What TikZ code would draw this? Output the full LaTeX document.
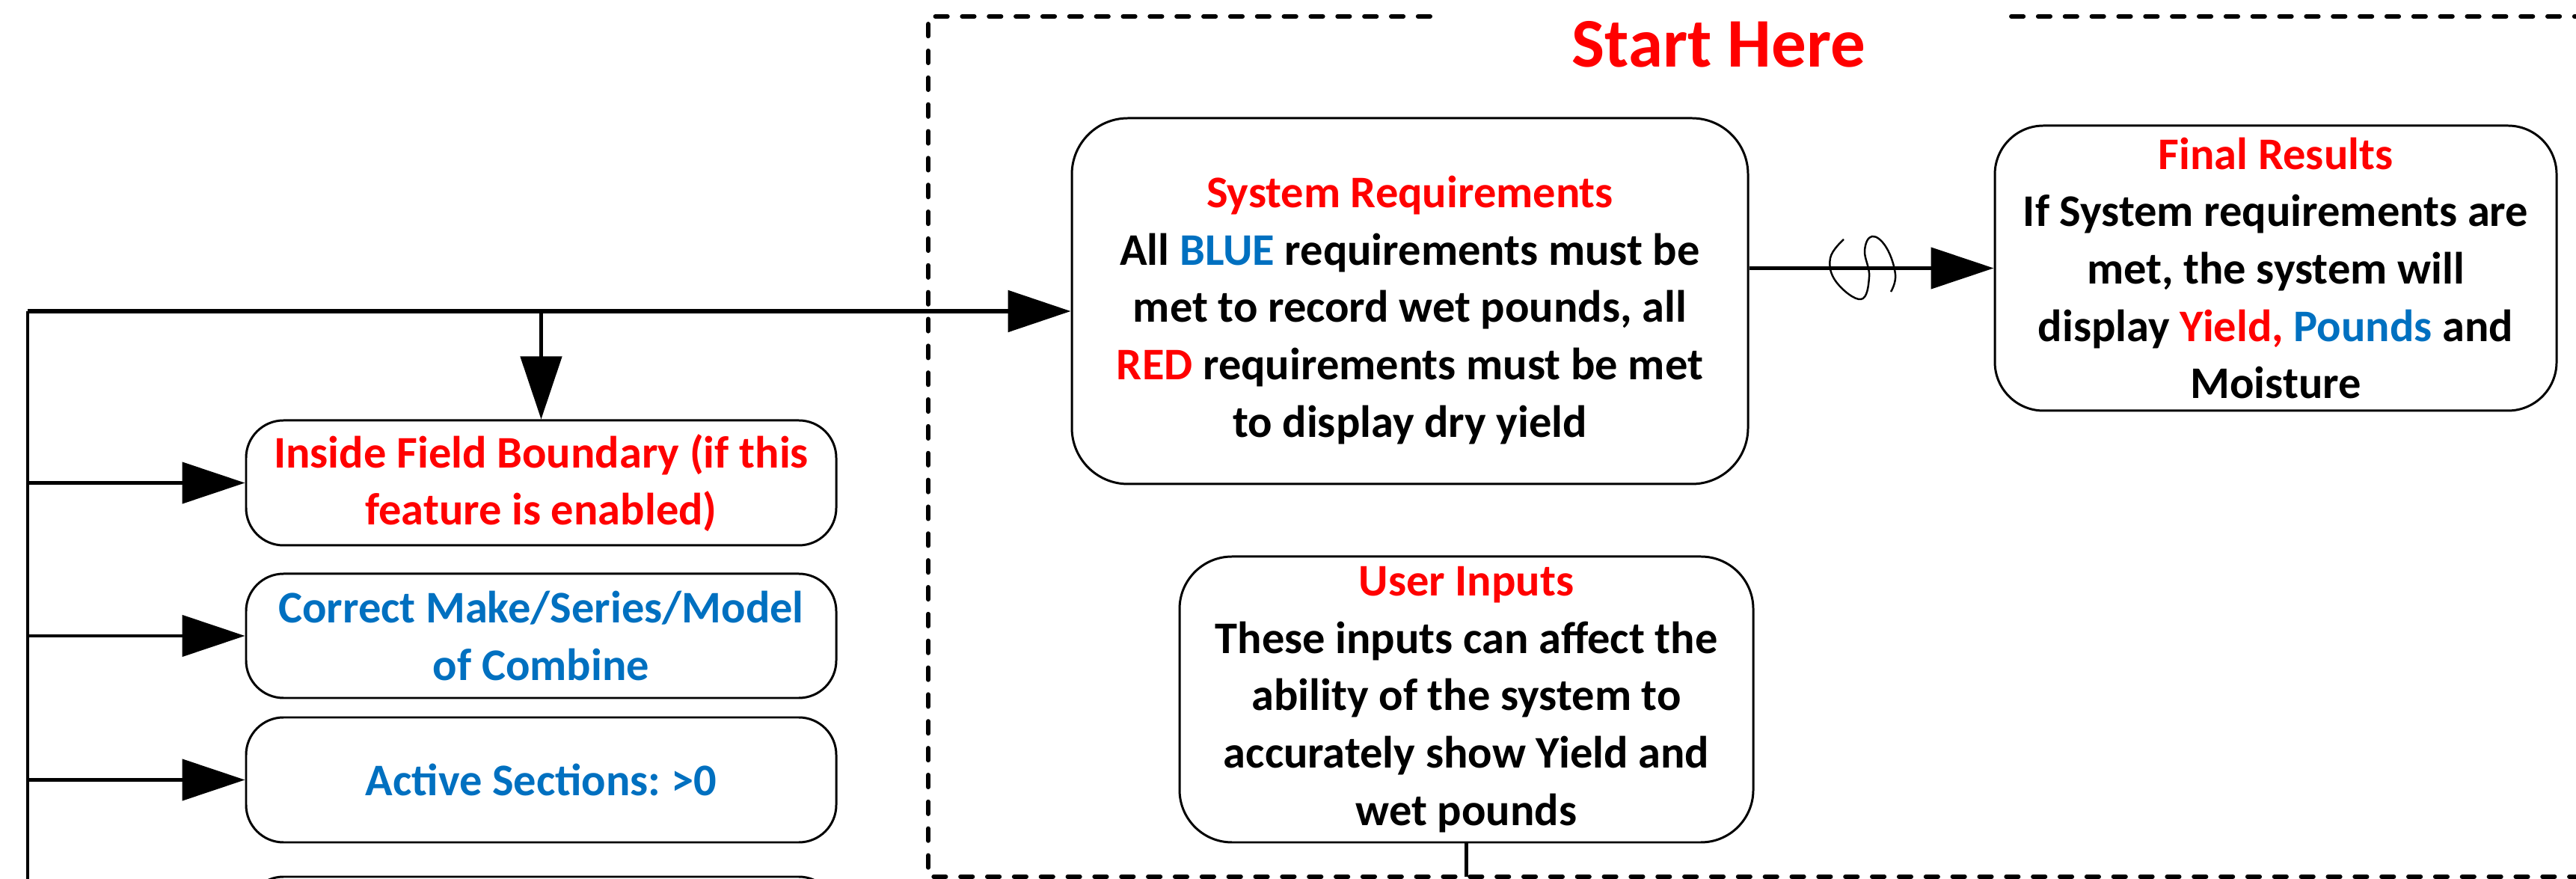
\documentclass[tikz,border=0pt]{standalone}
\usepackage{fontspec}
\setmainfont{Carlito}
\usetikzlibrary{arrows.meta}
\definecolor{myred}{RGB}{255,0,0}
\definecolor{myblue}{RGB}{0,112,192}
\begin{document}
\begin{tikzpicture}[
  box/.style={draw=black, line width=0.85pt, rounded corners=0.5cm, align=center, inner sep=0pt,
    font=\bfseries\fontsize{17.2}{21.8}\selectfont},
  bigbox/.style={box, rounded corners=0.75cm},
  boxtext/.style={align=center, inner sep=0pt, font=\bfseries\fontsize{17.2}{21.8}\selectfont},
  conn/.style={line width=1.3pt, -{Triangle[length=0.84cm,width=0.55cm]}},
  plainline/.style={line width=1.3pt},
  dashbox/.style={line width=1.7pt, line cap=round, dash pattern=on 4.6pt off 5.6pt},
]
\useasboundingbox (0,0) rectangle (34.44,11.75);
\clip (0,0) rectangle (34.44,11.75);

% title
\node[anchor=base, text=myred, font=\bfseries\fontsize{26.5}{32}\selectfont] (title) at (22.98,10.85) {Start Here};

% dashed region
\draw[dashbox] (19.12,11.53) -- (12.41,11.53) -- (12.41,0.03) -- (35.0,0.03);
\draw[dashbox] (26.89,11.53) -- (35.0,11.53);

% main boxes
\node[bigbox, minimum width=9.04cm, minimum height=4.89cm] (sr) at (18.85,7.725) {};
\node[boxtext, yshift=-0.12cm] (srtext) at (sr.center)
  {\textcolor{myred}{System Requirements}\\
   All \textcolor{myblue}{BLUE} requirements must be\\
   met to record wet pounds, all\\
   \textcolor{myred}{RED} requirements must be met\\
   to display dry yield};
\node[bigbox, rounded corners=0.65cm, minimum width=7.51cm, minimum height=3.81cm] (fr) at (30.425,8.165)
  {\textcolor{myred}{Final Results}\\
   If System requirements are\\
   met, the system will\\
   display \textcolor{myred}{Yield,} \textcolor{myblue}{Pounds} and\\
   Moisture};
\node[bigbox, rounded corners=0.7cm, minimum width=7.67cm, minimum height=3.82cm] (ui) at (19.605,2.40)
  {\textcolor{myred}{User Inputs}\\
   These inputs can affect the\\
   ability of the system to\\
   accurately show Yield and\\
   wet pounds};

% requirement boxes
\node[box, minimum width=7.89cm, minimum height=1.67cm, text=myred] (ifb) at (7.235,5.295)
  {Inside Field Boundary (if this\\ feature is enabled)};
\node[box, minimum width=7.89cm, minimum height=1.66cm, text=myblue] (cm) at (7.235,3.25)
  {Correct Make/Series/Model\\ of Combine};
\node[box, minimum width=7.89cm, minimum height=1.67cm, text=myblue] (as) at (7.235,1.325)
  {Active Sections:\ >0};
\node[box, minimum width=7.89cm, minimum height=1.67cm] (nextbox) at (7.235,-0.805) {};

% connectors
\coordinate (c0) at (0.37,7.59);
\coordinate (cbot) at (0.37,-0.5);
\coordinate (dbot) at (19.605,0.03);
\draw[plainline] (c0) -- (cbot);
\draw[conn, line width=1.6pt] (c0) -- (c0 -| sr.west);
\draw[conn] (c0 -| ifb.north) -- (ifb.north);
\draw[conn] (c0 |- ifb.west) -- (ifb.west);
\draw[conn] (c0 |- cm.west) -- (cm.west);
\draw[conn] (c0 |- as.west) -- (as.west);
\draw[conn] (fr.west -| sr.east) -- (fr.west);
\draw[plainline] (ui.south) -- (dbot);

% squiggle on the connector
\draw[line width=0.7pt] plot[smooth, tension=0.7] coordinates {
  (24.65,8.55) (24.47,8.30) (24.55,7.98) (24.88,7.75) (24.99,8.05) (24.93,8.40)
  (25.03,8.59) (25.22,8.44) (25.34,8.08) (25.28,7.85)};
\end{tikzpicture}
\end{document}
